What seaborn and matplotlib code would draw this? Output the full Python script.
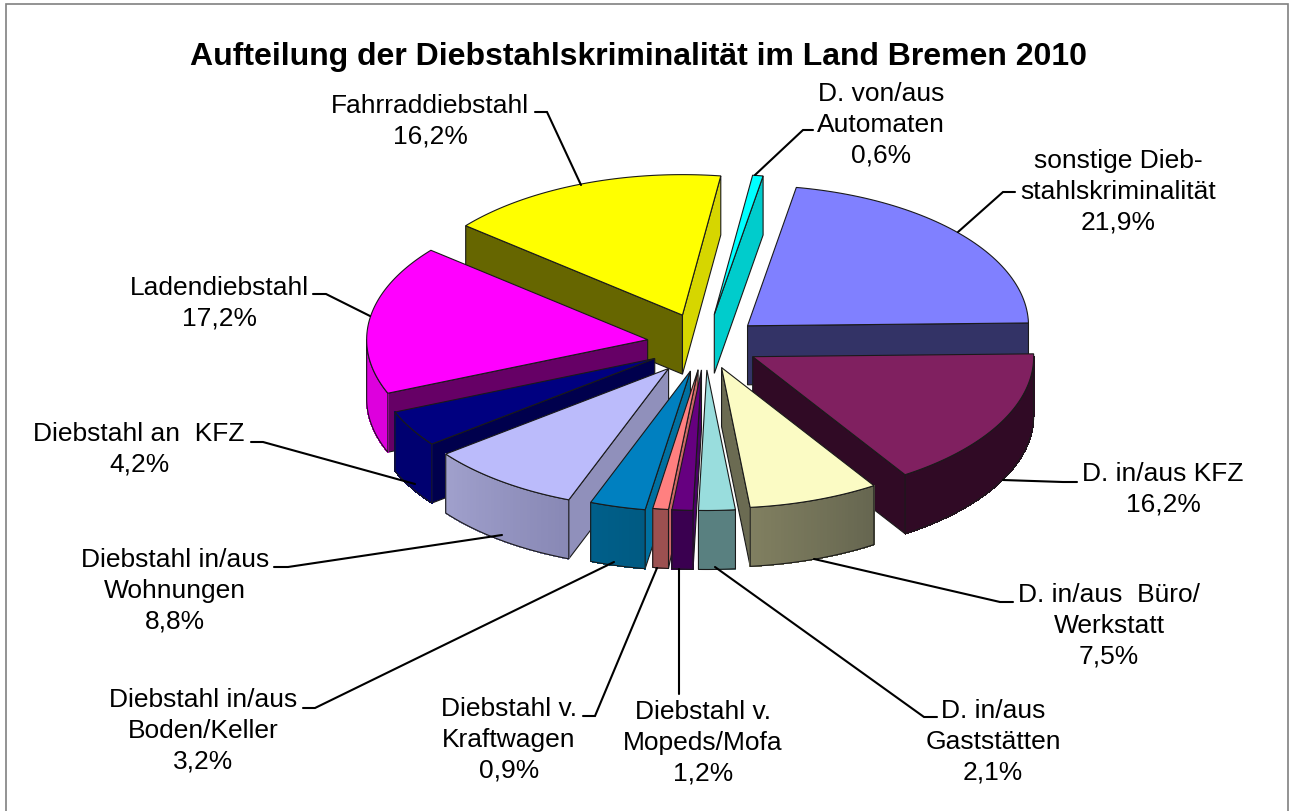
import matplotlib
matplotlib.use("Agg")
import matplotlib.pyplot as plt
import numpy as np
import seaborn as sns
from matplotlib.patches import Polygon, Rectangle

sns.set_theme(style="white")
plt.rcParams['font.family'] = ['Liberation Sans', 'DejaVu Sans']

title = "Aufteilung der Diebstahlskriminalität im Land Bremen 2010"
labels = ["sonstige Dieb-\nstahlskriminalität\n21,9%", "D. in/aus KFZ\n16,2%",
          "D. in/aus  Büro/\nWerkstatt\n7,5%", "D. in/aus\nGaststätten\n2,1%",
          "Diebstahl v.\nMopeds/Mofa\n1,2%", "Diebstahl v.\nKraftwagen\n0,9%",
          "Diebstahl in/aus\nBoden/Keller\n3,2%", "Diebstahl in/aus\nWohnungen\n8,8%",
          "Diebstahl an  KFZ\n4,2%", "Ladendiebstahl\n17,2%",
          "Fahrraddiebstahl\n16,2%", "D. von/aus\nAutomaten\n0,6%"]
shares = [21.9, 16.2, 7.5, 2.1, 1.2, 0.9, 3.2, 8.8, 4.2, 17.2, 16.2, 0.6]
explode = [56, 54, 50, 52, 52, 52, 56, 61, 58, 58, 62, 60]
top_colors = ["#8080FF", "#802060", "#FBFBC4", "#99DDDD", "#660080", "#FF8080",
              "#0080C0", "#BBBBFB", "#000080", "#FF00FF", "#FFFF00", "#00FFFF"]
arc_colors = ["#333366", "#300A25", "#666650", "#598080", "#3A0050", "#9C5050",
              "#005A82", "#8888B5", "#000070", "#DD00DD", "#D6D600", "#00CCCC"]
arc_colors2 = ["#333366", "#300A25", "#807F60", "#598080", "#3A0050", "#9C5050",
               "#005F8A", "#A0A0CC", "#000070", "#DD00DD", "#D6D600", "#00CCCC"]
start_colors = ["#333366", "#300A25", "#666650", "#598080", "#4A0066", "#CC6666",
                "#0070A0", "#9090BB", "#00004D", "#660066", "#666600", "#00CCCC"]
end_colors = ["#333366", "#300A25", "#6B6B52", "#598080", "#4A0066", "#CC6666",
              "#0070A0", "#9090BB", "#00004D", "#660066", "#D6D600", "#00CCCC"]

# label centre x, centre y of first line
label_pos = [(1118, 160), (1163, 473), (1109, 594), (993, 710), (703, 711), (509, 708),
             (203, 699), (175, 559), (139, 433), (219, 287), (430, 105), (881, 93)]
# leader lines
leaders = [[(1015, 193), (1003, 193), (958, 233)], [(1077, 483), (1063, 483), (1003, 481)],
           [(1013, 603), (1000, 603), (814, 560)], [(937, 718), (924, 718), (715, 568)],
           [(679, 695), (679, 570)], [(583, 717), (595, 717), (657, 569)],
           [(303, 709), (315, 709), (614, 563)], [(274, 568), (288, 568), (502, 536)],
           [(251, 443), (263, 443), (415, 485)], [(313, 295), (326, 295), (370, 317)],
           [(535, 113), (547, 113), (581, 186)], [(813, 131), (803, 131), (755, 176)]]

cx, cy = 705, 345
radius = 281
squash = 0.5
depth = 59
first_angle = 10
edge = "#1A1A1A"


def to_xy(angle, r, ox, oy):
    a = np.radians(angle)
    return ox + r * np.sin(a), oy - squash * r * np.cos(a)


fig = plt.figure(figsize=(12.89, 8.12), dpi=100)
ax = fig.add_axes([0, 0, 1, 1])
ax.set_xlim(0, 1289)
ax.set_ylim(812, 0)
ax.axis("off")
ax.add_patch(Rectangle((6, 5), 1282, 830, fc="white", ec="#808080", lw=1.2))

edges = first_angle + np.cumsum([0] + shares) * 3.6
order = sorted(range(len(shares)), key=lambda i: -np.cos(np.radians((edges[i] + edges[i + 1]) / 2)))
z = 2
for i in order:
    a0, a1 = edges[i], edges[i + 1]
    mid = (a0 + a1) / 2
    ox, oy = to_xy(mid, explode[i], cx, cy)
    p0 = to_xy(a0, radius, ox, oy)
    p1 = to_xy(a1, radius, ox, oy)
    # cut faces
    if np.sin(np.radians(a0)) < 0:
        pts = [(ox, oy), p0, (p0[0], p0[1] + depth), (ox, oy + depth)]
        ax.add_patch(Polygon(pts, fc=start_colors[i], ec=edge, lw=0.8, zorder=z))
    if np.sin(np.radians(a1)) > 0:
        pts = [(ox, oy), p1, (p1[0], p1[1] + depth), (ox, oy + depth)]
        ax.add_patch(Polygon(pts, fc=end_colors[i], ec=edge, lw=0.8, zorder=z))
    # outer wall
    lo, hi = max(a0, 90), min(a1, 270)
    if hi > lo:
        steps = np.linspace(lo, hi, 40)
        c0 = np.array(matplotlib.colors.to_rgb(arc_colors[i]))
        c1 = np.array(matplotlib.colors.to_rgb(arc_colors2[i]))
        for j in range(len(steps) - 1):
            q0 = to_xy(steps[j], radius, ox, oy)
            q1 = to_xy(steps[j + 1], radius, ox, oy)
            t = j / (len(steps) - 2)
            col = c0 + (c1 - c0) * t
            ax.add_patch(Polygon([q0, q1, (q1[0], q1[1] + depth), (q0[0], q0[1] + depth)],
                                 fc=col, ec=col, lw=0.5, antialiased=False, zorder=z))
        xs, ys = to_xy(steps, radius, ox, oy)
        outline = list(zip(xs, ys)) + list(zip(xs[::-1], ys[::-1] + depth))
        ax.add_patch(Polygon(outline, fc="none", ec=edge, lw=0.8, zorder=z))
    # top
    steps = np.linspace(a0, a1, 60)
    xs, ys = to_xy(steps, radius, ox, oy)
    ax.add_patch(Polygon([(ox, oy)] + list(zip(xs, ys)), fc=top_colors[i], ec=edge, lw=0.8, zorder=z))
    z += 1

for line in leaders:
    xs, ys = zip(*line)
    ax.plot(xs, ys, color="black", lw=1.5, zorder=50, solid_joinstyle="miter")

for lab, (x, y) in zip(labels, label_pos):
    ax.text(x, y - 11, lab, ha="center", va="top", fontsize=19, color="black",
            linespacing=1.35, zorder=60)
ax.text(638.5, 57, title, ha="center", va="center", fontsize=23, fontweight="bold", color="black", zorder=60)

fig.savefig("out.png", dpi=100)
